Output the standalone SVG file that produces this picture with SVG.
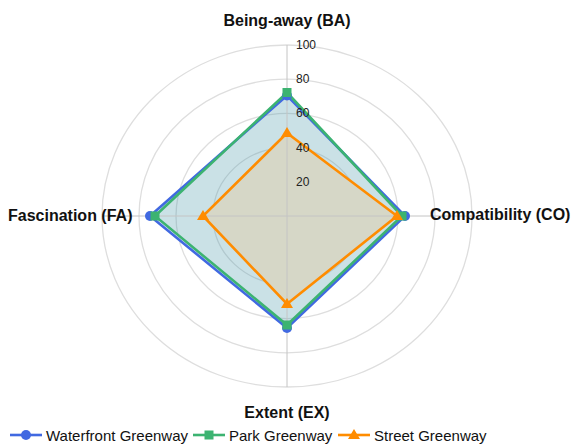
<svg xmlns="http://www.w3.org/2000/svg" width="576" height="446" viewBox="0 0 576 446">
  <style>
    .ring { fill: none; stroke: #dedede; stroke-width: 1.3; }
    .axis { stroke: #c4c4c4; stroke-width: 1; }
    .tick { font-family: "Liberation Sans", Arial, sans-serif; font-size: 12px; fill: #222; dominant-baseline: central; }
    .lab { font-family: "Liberation Sans", Arial, sans-serif; font-size: 16px; font-weight: bold; fill: #111; }
    .leg { font-family: "Liberation Sans", Arial, sans-serif; font-size: 15px; fill: #111; }
    .wf { stroke: #4169E1; }
    .pk { stroke: #3CB371; }
    .st { stroke: #FF8C00; }
    .line { fill: none; stroke-width: 2.6; stroke-linejoin: miter; }
  </style>
  <rect width="576" height="446" fill="#ffffff"/>
  <g id="grid">
    <ellipse class="ring" cx="287" cy="216" rx="37" ry="34.2"/>
    <ellipse class="ring" cx="287" cy="216" rx="74" ry="68.4"/>
    <ellipse class="ring" cx="287" cy="216" rx="111" ry="102.6"/>
    <ellipse class="ring" cx="287" cy="216" rx="148" ry="136.8"/>
    <ellipse class="ring" cx="287" cy="216" rx="185" ry="171"/>
  </g>
  <g id="series-waterfront">
    <polygon points="287,95.5 405,216 287,328 150,216" fill="#4169E1" fill-opacity="0.15" stroke="none"/>
  </g>
  <g id="series-park">
    <polygon points="287,92.5 402,216 287,325 155,216" fill="#3CB371" fill-opacity="0.15" stroke="none"/>
  </g>
  <g id="series-street">
    <polygon points="287,133 397,216 287,304 203,216" fill="#d6d7c7" stroke="none"/>
  </g>
  <g id="axes">
    <line class="axis" x1="287" y1="45" x2="287" y2="387"/>
    <line class="axis" x1="102" y1="216" x2="472" y2="216"/>
  </g>
  <g id="connectors">
    <polygon class="line wf" points="287,95.5 405,216 287,328 150,216"/>
    <polygon class="line pk" points="287,92.5 402,216 287,325 155,216"/>
    <polygon class="line st" points="287,133 397,216 287,304 203,216"/>
  </g>
  <g id="markers">
    <g fill="#4169E1">
      <circle cx="287" cy="95.5" r="5"/>
      <circle cx="405" cy="216" r="5"/>
      <circle cx="287" cy="328" r="5"/>
      <circle cx="150" cy="216" r="5"/>
    </g>
    <g fill="#3CB371">
      <rect x="282.5" y="88" width="9" height="9"/>
      <rect x="397.5" y="211.5" width="9" height="9"/>
      <rect x="282.5" y="320.5" width="9" height="9"/>
      <rect x="150.5" y="211.5" width="9" height="9"/>
    </g>
    <g fill="#FF8C00">
      <polygon points="287,127 293,137 281,137"/>
      <polygon points="397,210 403,220 391,220"/>
      <polygon points="287,298 293,308 281,308"/>
      <polygon points="203,210 209,220 197,220"/>
    </g>
  </g>
  <g id="ticks">
    <text class="tick" x="296" y="181.8">20</text>
    <text class="tick" x="296" y="147.6">40</text>
    <text class="tick" x="296" y="113.4">60</text>
    <text class="tick" x="296" y="79.2">80</text>
    <text class="tick" x="296" y="45">100</text>
  </g>
  <g id="node-BA"><text class="lab" x="287" y="25.5" text-anchor="middle">Being-away (BA)</text></g>
  <g id="node-CO"><text class="lab" x="430" y="220">Compatibility (CO)</text></g>
  <g id="node-EX"><text class="lab" x="287" y="418" text-anchor="middle">Extent (EX)</text></g>
  <g id="node-FA"><text class="lab" x="8" y="221">Fascination (FA)</text></g>
  <g id="legend">
    <line x1="10" y1="435" x2="42" y2="435" stroke="#4169E1" stroke-width="2.6"/>
    <circle cx="26" cy="435" r="5" fill="#4169E1"/>
    <text class="leg" x="46" y="440.5">Waterfront Greenway</text>
    <line x1="193" y1="435" x2="225" y2="435" stroke="#3CB371" stroke-width="2.6"/>
    <rect x="204.5" y="430.5" width="9" height="9" fill="#3CB371"/>
    <text class="leg" x="229" y="440.5">Park Greenway</text>
    <line x1="338" y1="435" x2="370" y2="435" stroke="#FF8C00" stroke-width="2.6"/>
    <polygon points="354,429 360,439 348,439" fill="#FF8C00"/>
    <text class="leg" x="374" y="440.5">Street Greenway</text>
  </g>
</svg>
